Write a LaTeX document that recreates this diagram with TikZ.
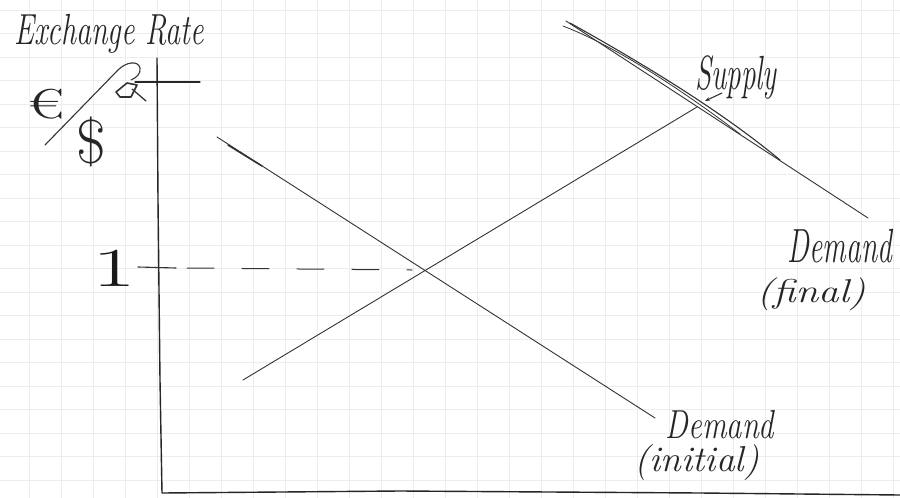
\documentclass[tikz,border=0pt]{standalone}
\usepackage{fontspec}
\usetikzlibrary{arrows.meta}
\begin{document}
\begin{tikzpicture}[x=1pt,y=-1pt,
  pencil/.style={draw=black!80,line width=0.9pt,line cap=round,line join=round},
  axisline/.style={draw=black!85,line width=1.4pt,line cap=round,line join=round},
  hand/.style={inner sep=0pt,text=black!85,font=\itshape\fontsize{#1}{#1}\selectfont},
  hand/.default=30]
\useasboundingbox (0,0) rectangle (900,498);
\fill[white] (0,0) rectangle (900,498);
% grid paper
\foreach \i in {0,...,27} \draw[black!7,line width=0.7pt] (29+32*\i,0) -- (29+32*\i,498);
\foreach \j in {0,...,20} \draw[black!7,line width=0.7pt] (0,10+23.5*\j) -- (900,10+23.5*\j);

% axes
\coordinate (ytop) at (157,58);
\coordinate (origin) at (162,493);
\coordinate (xend) at (900,495);
\draw[axisline] (ytop) -- (158,200) -- (160,380) -- (origin) -- (400,491) -- (700,493) -- (xend);
\coordinate (tl) at (135,82);
\coordinate (tr) at (200,82);
\draw[axisline,line width=1.1pt] (tl) -- (tr);

% currency label
\node[hand=30] (xr) at (109,34) {\scalebox{1}[1.45]{Exchange Rate}};
\node[inner sep=0pt,text=black!85,font=\fontsize{40}{40}\selectfont] (eur) at (46,104) {\scalebox{1.6}[1.05]{€}};
\node[inner sep=0pt,text=black!85,font=\fontsize{46}{46}\selectfont] (usd) at (91,142) {\scalebox{1.4}[1.35]{\$}};
\coordinate (sl1) at (45,145);
\coordinate (sl2) at (118,70);
\draw[pencil,line width=1.1pt] (sl1) -- (sl2) .. controls (126,62) and (138,60) .. (140,68) .. controls (141,74) and (136,78) .. (131,80);
\draw[pencil,line width=1.6pt] (116,92) -- (127,83) -- (137,85) -- (131,97) -- (120,97) -- cycle;
\draw[pencil,line width=1.3pt] (132,89) -- (146,101);

% level 1 and dashed line
\node[inner sep=0pt,text=black!90,font=\fontsize{50}{50}\selectfont] (one) at (114,268) {\scalebox{1.9}[1.1]{1}};
\coordinate (t1) at (138,267);
\coordinate (t2) at (176,268);
\draw[pencil,line width=1.1pt] (t1) -- (t2);
\coordinate (eq) at (427,268);
\draw[pencil,dash pattern=on 27pt off 28pt,line width=1pt] (187,268) -- (412,270);

% demand (initial)
\coordinate (dia) at (217,137);
\coordinate (dib) at (655,418);
\draw[pencil] (dia) -- (dib);
\draw[pencil,line width=1.6pt] (228,145) -- (262,166);
\node[hand=30] (dlab) at (720,425) {\scalebox{1.02}[1.35]{Demand}};
\node[hand=30] (dilab) at (697,463) {\scalebox{1.25}[1.2]{(initial)}};

% supply
\coordinate (sa) at (243,380);
\coordinate (sb) at (697,107);
\draw[pencil] (sa) -- (sb);
\node[hand=30] (slab) at (736,77) {\scalebox{0.97}[1.6]{Supply}};
\coordinate (sp) at (722,93);
\draw[pencil,line width=1.1pt,-{Stealth[length=5pt]}] (sp) -- (705,101);

% demand (final)
\coordinate (dfa) at (566,21);
\coordinate (dfb) at (868,218);
\draw[pencil] (dfa) -- (dfb);
\draw[pencil,line width=1.1pt] (570,23) .. controls (640,62) and (720,110) .. (780,160);
\draw[pencil,line width=0.8pt] (563,26) .. controls (620,48) and (690,96) .. (740,134);
\node[hand=30] (dflab) at (840,246) {\scalebox{0.98}[1.6]{Demand}};
\node[hand=30] (fflab) at (811,294) {\scalebox{1.37}[1.1]{(final)}};
\end{tikzpicture}
\end{document}
